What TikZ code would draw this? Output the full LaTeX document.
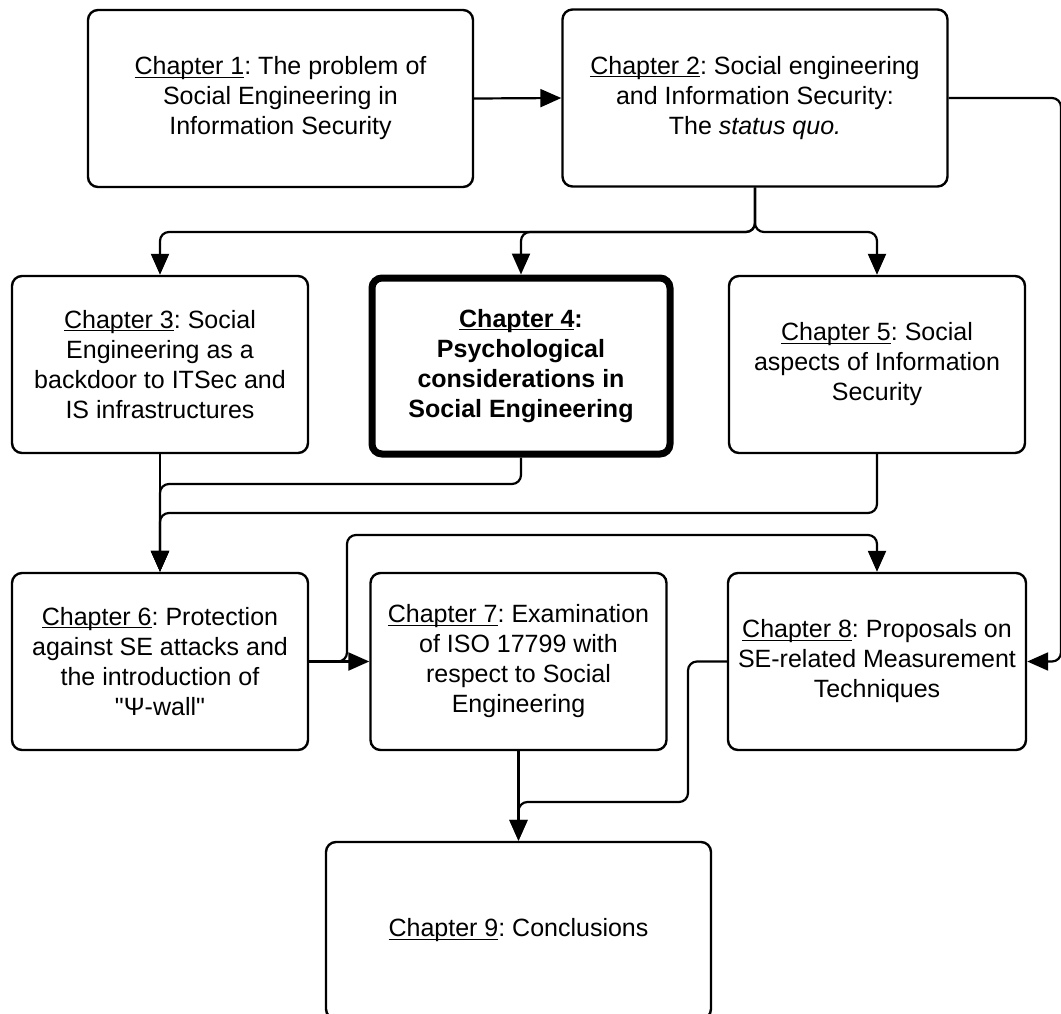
\documentclass[tikz,border=0pt]{standalone}
\usepackage{fontspec}
\setmainfont{Liberation Sans}[Ligatures=TeXOff]
\usetikzlibrary{arrows.meta}
% underline that sits just under the baseline
\newcommand\chapul[1]{\setbox0\hbox{#1}\rlap{\rule[-3pt]{\wd0}{1.1pt}}\box0}
\begin{document}
\frenchspacing
\begin{tikzpicture}[x=1pt,y=-1pt,
  chap/.style={draw, line width=2.4pt, rounded corners=10pt, minimum width=296pt,
    minimum height=177pt, align=center, inner sep=0pt,
    font=\fontsize{25}{30}\selectfont},
  wide/.style={chap, minimum width=385pt},
  key/.style={chap, line width=7pt, minimum width=298pt, minimum height=176pt,
    font=\fontsize{25}{30}\selectfont\bfseries},
  link/.style={line width=2.2pt, rounded corners=9pt, -{Triangle[length=21pt,width=18pt]}},
]
\clip (0,0) rectangle (1061,1013);
\fill[white] (0,0) rectangle (1061,1013);

% chapter boxes
\node[wide] (ch1) at (280.5,98.5) {\chapul{Chapter 1}: The problem of\\Social Engineering in\\Information Security};
\node[wide] (ch2) at (755,98) {\chapul{Chapter 2}: Social engineering\\and Information Security:\\The \textit{status quo.}};
\node[chap] (ch3) at (160,364.5) {\chapul{Chapter 3}: Social\\Engineering as a\\backdoor to ITSec and\\IS infrastructures};
\node[key]  (ch4) at (521,366) {\chapul{Chapter 4}:\\Psychological\\considerations in\\Social Engineering};
\node[chap] (ch5) at (877,364.5) {\chapul{Chapter 5}: Social\\aspects of Information\\Security};
\node[chap] (ch6) at (160,661.5) {\chapul{Chapter 6}: Protection\\against SE attacks and\\the introduction of\\"Ψ-wall"};
\node[chap] (ch7) at (518.5,661.5) {\chapul{Chapter 7}: Examination\\of ISO 17799 with\\respect to Social\\Engineering};
\node[chap, minimum width=298pt] (ch8) at (877,661.5) {\chapul{Chapter 8}: Proposals on\\SE-related Measurement\\Techniques};
\node[wide] (ch9) at (518.5,930.5) {\chapul{Chapter 9}: Conclusions};

% routing points
\coordinate (bus1) at (0,232);
\coordinate (bus2) at (0,484);
\coordinate (bus3) at (0,513);
\coordinate (bus4) at (0,535);
\coordinate (riser) at (347,0);
\coordinate (edge) at (1061,0);
\coordinate (drop) at (688,802);

% connectors
\draw[link] (ch1.east) -- (ch2.west);
\draw[link] (ch2.east) -| (edge |- ch8.east) -- (ch8.east);
\draw[link] (ch2.south) |- (bus1 -| ch3.north) -- (ch3.north);
\draw[link] (ch2.south) |- (bus1 -| ch4.north) -- (ch4.north);
\draw[link] (ch2.south) |- (bus1 -| ch5.north) -- (ch5.north);
\draw[link] (ch3.south) -- (ch6.north);
\draw[link] (ch4.south) |- (bus2 -| ch6.north) -- (ch6.north);
\draw[link] (ch5.south) |- (bus3 -| ch6.north) -- (ch6.north);
\draw[link] (ch6.east) -- (ch7.west);
\draw[link] (ch6.east) -| (riser |- bus4) -| (ch8.north);
\draw[link] (ch7.south) -- (ch9.north);
\draw[link] (ch8.west) -| (drop) -| (ch9.north);
\end{tikzpicture}
\end{document}
